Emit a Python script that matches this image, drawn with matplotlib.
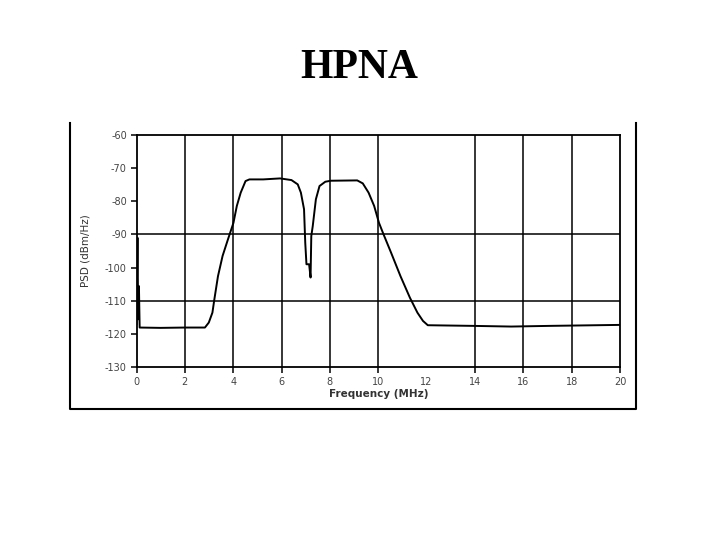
import numpy as np
import matplotlib
matplotlib.use("Agg")
import matplotlib.pyplot as plt
from matplotlib.lines import Line2D

plt.rcParams["axes.unicode_minus"] = False

# PSD trace
freq_mhz = [0.0, 0.04, 0.07, 0.10, 0.13, 1.0, 2.0, 2.83, 2.99, 3.14, 3.22,
            3.37, 3.56, 3.76, 4.01, 4.15, 4.31, 4.51, 4.67, 5.24, 5.94, 6.41,
            6.67, 6.80, 6.93, 6.98, 7.03, 7.14, 7.20, 7.23, 7.29, 7.42, 7.57,
            7.81, 8.04, 9.13, 9.36, 9.60, 9.83, 10.03, 10.22, 10.53, 10.92,
            11.31, 11.62, 11.85, 12.05, 13.95, 15.5, 17.06, 20.0]
psd_dbm = [-117.0, -91.0, -115.6, -105.6, -118.1, -118.2, -118.1, -118.1,
           -116.6, -113.6, -109.6, -102.6, -96.5, -92.0, -86.5, -81.4, -77.4,
           -73.9, -73.4, -73.4, -73.1, -73.6, -74.9, -77.4, -82.4, -92.5,
           -99.0, -99.0, -103.0, -90.5, -87.5, -79.4, -75.4, -74.1, -73.8,
           -73.7, -74.6, -77.4, -81.4, -86.5, -90.0, -95.5, -102.6, -109.1,
           -113.6, -116.1, -117.4, -117.6, -117.8, -117.6, -117.3]

x_ticks = [0, 2, 4, 6, 8, 10, 12, 14, 16, 18, 20]
y_ticks = [-60, -70, -80, -90, -100, -110, -120, -130]
x_grid = [2, 4, 6, 8, 10, 14, 16, 18]
y_grid = [-90, -110]

fig = plt.figure(figsize=(7.2, 5.4), dpi=100)

fig.text(0.499, 0.874, "HPNA", ha="center", va="center",
         fontsize=30, fontweight="bold", family="Liberation Serif")

# outer frame (open at the top)
fx0, fx1, fy0, fy1 = 0.0979, 0.8833, 0.2426, 0.7731
fig.add_artist(Line2D([fx0, fx0, fx1, fx1], [fy1, fy0, fy0, fy1],
                      color="black", lw=1.5, transform=fig.transFigure))

ax = fig.add_axes([0.1896, 0.3204, 0.6715, 0.4296])
ax.plot(freq_mhz, psd_dbm, color="black", lw=1.4)

ax.set_xlim(0, 20)
ax.set_ylim(-130, -60)
ax.vlines(x_grid, -130, -60, color="black", lw=1.1)
ax.hlines(y_grid, 0, 20, color="black", lw=1.1)

for s in ax.spines.values():
    s.set_linewidth(1.3)

ax.set_xticks(x_ticks)
ax.set_yticks(y_ticks)
ax.tick_params(direction="out", length=4, width=1.1, labelsize=7,
               labelcolor="#444444", pad=3)
ax.xaxis.get_major_ticks()[6].tick1line.set_visible(False)

ax.set_xlabel("Frequency (MHz)", fontsize=7.5, fontweight="bold",
              color="#333333", labelpad=2)
ax.set_ylabel("PSD (dBm/Hz)", fontsize=7.5, color="#333333", labelpad=10)

fig.savefig("out.png", dpi=100)
